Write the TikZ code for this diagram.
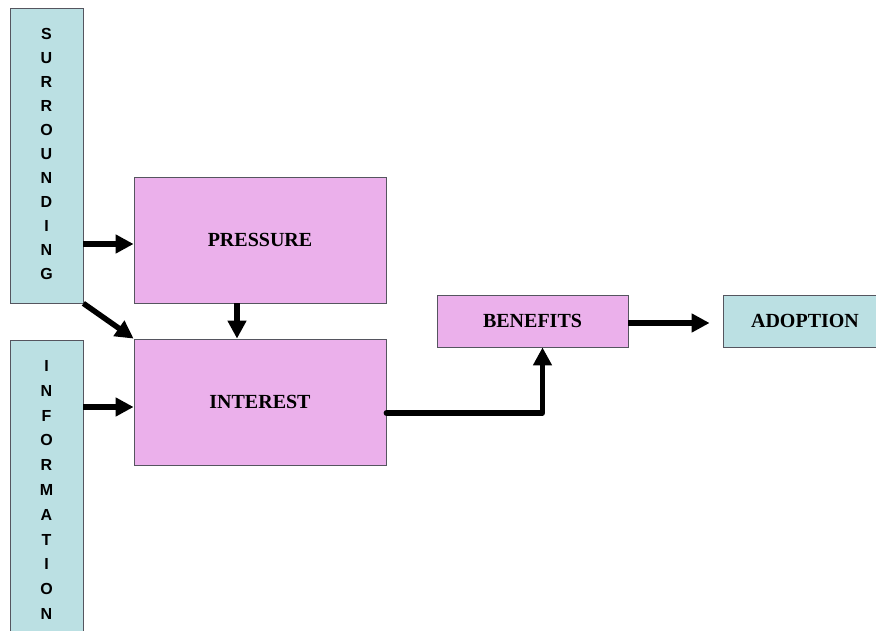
\documentclass[tikz,border=0pt]{standalone}
\usepackage{fontspec}
\setmainfont{Liberation Serif}
\newfontfamily\letterfont{Liberation Sans}
\usetikzlibrary{arrows.meta}
\definecolor{boxpink}{RGB}{235,176,235}
\definecolor{boxcyan}{RGB}{187,224,227}
\definecolor{boxline}{RGB}{85,85,95}
\begin{document}
\begin{tikzpicture}[x=1pt,y=-1pt,
  box/.style={draw=boxline, line width=0.8pt, inner sep=0pt},
  pinkbox/.style={box, fill=boxpink},
  cyanbox/.style={box, fill=boxcyan},
  lbl/.style={font=\bfseries\fontsize{20}{20}\selectfont},
  vlbl/.style={align=center, font=\letterfont\bfseries\fontsize{16}{#1}\selectfont},
  flow/.style={line width=5.5pt, -{Triangle[length=18pt,width=18pt]}}
]
\clip (0,0) rectangle (876,631);

% side boxes with letters stacked vertically
\node[cyanbox, minimum width=73pt, minimum height=295pt] (surr) at (46.5,155.5) {};
\node[vlbl=24pt] at (46.5,154) {S\\U\\R\\R\\O\\U\\N\\D\\I\\N\\G};
\node[cyanbox, minimum width=73pt, minimum height=300pt] (info) at (46.5,490) {};
\node[vlbl=24.8pt] at (46.5,490) {I\\N\\F\\O\\R\\M\\A\\T\\I\\O\\N};

% main boxes
\node[pinkbox, lbl, minimum width=252pt, minimum height=126pt] (press) at (260,240) {PRESSURE};
\node[pinkbox, lbl, minimum width=252pt, minimum height=126pt] (inter) at (260,402) {INTEREST};
\node[pinkbox, lbl, minimum width=191pt, minimum height=52pt] (ben) at (532.5,321) {BENEFITS};
\node[cyanbox, minimum width=164pt, minimum height=52pt] (adopt) at (805,321) {};
\node[lbl] at (805,321) {ADOPTION};

% connectors
\draw[flow] ([yshift=-4pt]press.west -| surr.east) -- ([yshift=-4pt]press.west);
\draw[flow] ([yshift=-5pt]inter.west -| info.east) -- ([yshift=-5pt]inter.west);
\draw[flow] (surr.south east) -- (inter.north west);
\draw[flow] ([xshift=-23pt]press.south) -- ([xshift=-23pt]inter.north);
\draw[flow, line cap=round, line join=round] ([yshift=-11pt]inter.east) -| ([xshift=10pt]ben.south);
\draw[flow, shorten >=13pt] ([yshift=-2pt]ben.east) -- ([yshift=-2pt]adopt.west);
\end{tikzpicture}
\end{document}
